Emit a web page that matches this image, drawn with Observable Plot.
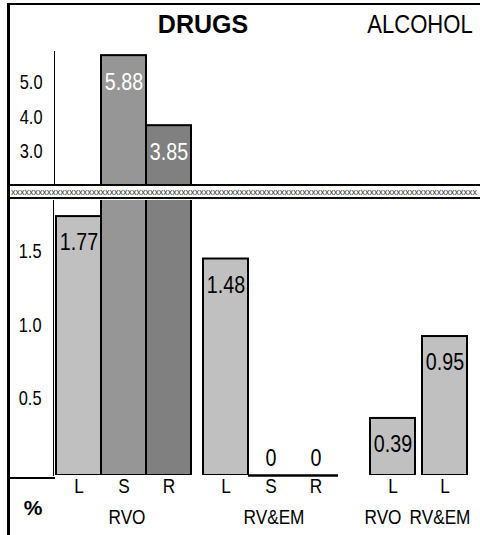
<!DOCTYPE html>
<html><head><meta charset="utf-8">
<script src="https://cdn.jsdelivr.net/npm/d3@7"></script>
<script src="https://cdn.jsdelivr.net/npm/@observablehq/plot@0.6"></script>
<style>
body{margin:0;background:#fff;}
#chart{position:relative;width:480px;height:535px;overflow:hidden;background:#fff;}
#chart svg{position:absolute;left:0;}
</style></head><body><div id="chart"></div>
<script>
// ---- data ----
const substances = ["DRUGS","DRUGS","DRUGS","DRUGS","DRUGS","DRUGS","ALCOHOL","ALCOHOL"];
const groups = ["RVO","RVO","RVO","RV&EM","RV&EM","RV&EM","RVO","RV&EM"];
const letters = ["L","S","R","L","S","R","L","L"];
const values = [1.77,5.88,3.85,1.48,0,0,0.39,0.95];
const topTicks = [3,4,5];
const bottomTicks = [0.5,1,1.5];
const titles = ["DRUGS","ALCOHOL"];
const unitLabel = "%";

// ---- layout / style ----
const SANS = '"Liberation Sans",Arial,sans-serif';
const NARROW_SCALE = 0.82;
const breakLow = 1.88, topLow = 2.145, topHigh = 6;
const shade = {L:"#c0c0c0", S:"#969696", R:"#808080"};
const groupDx = {"DRUGS|RVO":0, "DRUGS|RV&EM":12, "ALCOHOL|RVO":44, "ALCOHOL|RV&EM":51};
const groupLabelDx = {"DRUGS|RVO":3, "DRUGS|RV&EM":3, "ALCOHOL|RVO":-10, "ALCOHOL|RV&EM":-5};

const rows = values.map((v,i)=>({
  key: `${substances[i]}|${groups[i]}|${letters[i]}`,
  gkey: `${substances[i]}|${groups[i]}`,
  substance: substances[i], group: groups[i], letter: letters[i], value: v
}));
const gkeys = [...new Set(rows.map(d=>d.gkey))];
const xScale = {type:"band", domain: rows.map(d=>d.key), range:[56, 416], padding:0, axis:null};

function barMarks(clipped) {
  const m = [];
  for (const g of gkeys) {
    const data = rows.filter(d=>d.gkey===g);
    m.push(Plot.barY(data.filter(d=>d.value>0), {x:"key", y:"value", fill:d=>shade[d.letter], stroke:"black", strokeWidth:2, dx:groupDx[g], clip:clipped}));
  }
  return m;
}
function narrow(svg, s) {
  svg.querySelectorAll("text").forEach(t=>{
    const x = +t.getAttribute("x")||0, y = +t.getAttribute("y")||0;
    const tr = t.getAttribute("transform")||"";
    t.setAttribute("transform", `${tr} translate(${x},${y}) scale(${s},1) translate(${-x},${-y})`);
  });
}
const plotStyle = {fontFamily:SANS, fontSize:"20px", color:"black", background:"transparent", overflow:"visible"};

// ---- top panel ----
const topPlot = Plot.plot({
  width:480, height:184, marginTop:51, marginBottom:0, marginLeft:54, marginRight:0,
  style: plotStyle,
  x: xScale,
  y: {domain:[topLow, topHigh]},
  marks: [
    ...barMarks(true),
    ...gkeys.map(g=>Plot.text(rows.filter(d=>d.gkey===g && d.value>breakLow), {x:"key", y:"value", text:d=>d3.format(".2f")(d.value), dy:27, dx:groupDx[g], fill:"white", fontSize:24})),
    Plot.axisY(topTicks, {tickSize:0, tickPadding:12, tickFormat:".1f", dy:-3, fontSize:20, label:null}),
    Plot.frame({anchor:"left", stroke:"black"})
  ]
});
topPlot.style.top = "0px";

// ---- bottom panel ----
const bottomPlot = Plot.plot({
  width:480, height:336, marginTop:1, marginBottom:60, marginLeft:53, marginRight:0,
  style: plotStyle,
  x: xScale,
  y: {domain:[0, breakLow]},
  marks: [
    ...barMarks(true),
    ...gkeys.map(g=>Plot.tickY(rows.filter(d=>d.gkey===g && d.value===0), {x:"key", y:"value", stroke:"black", strokeWidth:2.5, dx:groupDx[g]})),
    ...gkeys.map(g=>Plot.text(rows.filter(d=>d.gkey===g && d.value>0 && d.value<=breakLow), {x:"key", y:"value", text:d=>d3.format(".2f")(d.value), dy:26, dx:groupDx[g], fill:"black", fontSize:24})),
    ...gkeys.map(g=>Plot.text(rows.filter(d=>d.gkey===g && d.value===0), {x:"key", y:"value", text:d=>String(d.value), dy:-17, dx:groupDx[g], fill:"black", fontSize:24})),
    ...gkeys.map(g=>Plot.text(rows.filter(d=>d.gkey===g), {x:"key", text:"letter", frameAnchor:"bottom", dy:17, dx:groupDx[g], fill:"black", fontSize:21})),
    ...gkeys.map(g=>{
      const data = rows.filter(d=>d.gkey===g);
      const mid = data[Math.floor((data.length-1)/2)];
      return Plot.text([mid], {x:"key", text:"group", frameAnchor:"bottom", dy:48, dx:groupDx[g]+groupLabelDx[g], fill:"black", fontSize:21});
    }),
    Plot.axisY(bottomTicks, {tickSize:0, tickPadding:12, tickFormat:".1f", dy:-4, fontSize:20, label:null}),
    Plot.frame({anchor:"left", stroke:"black"})
  ]
});
bottomPlot.style.top = "199px";
narrow(topPlot, NARROW_SCALE);
narrow(bottomPlot, NARROW_SCALE);

const chart = document.getElementById("chart");
chart.append(topPlot, bottomPlot);

// ---- decorations overlay ----
const ov = d3.select(chart).append("svg").attr("width",480).attr("height",535).style("top","0px");
ov.append("rect").attr("x",7).attr("y",3).attr("width",3).attr("height",532).attr("fill","black");
ov.append("rect").attr("x",7).attr("y",3).attr("width",473).attr("height",2).attr("fill","black");
ov.append("rect").attr("x",7).attr("y",184).attr("width",473).attr("height",2).attr("fill","black");
ov.append("rect").attr("x",7).attr("y",197).attr("width",473).attr("height",2).attr("fill","black");
ov.append("rect").attr("x",10).attr("y",186).attr("width",470).attr("height",11).attr("fill","white");
ov.append("text").attr("x",11).attr("y",194.5).attr("font-family",SANS).attr("font-size",9).attr("fill","#333")
  .attr("textLength",466).attr("lengthAdjust","spacingAndGlyphs")
  .text("x".repeat(104));
ov.append("rect").attr("x",7).attr("y",477).attr("width",48).attr("height",2).attr("fill","black");
ov.append("text").attr("x",203).attr("y",33).attr("text-anchor","middle").attr("font-family",SANS)
  .attr("font-weight","bold").attr("font-size",25).text(titles[0]);
ov.append("text").attr("text-anchor","middle").attr("font-family",SANS)
  .attr("font-size",26).attr("transform","translate(420,33) scale(0.85,1)").text(titles[1]);
ov.append("text").attr("x",33).attr("y",515).attr("text-anchor","middle").attr("font-family",SANS)
  .attr("font-weight","bold").attr("font-size",21).text(unitLabel);
</script></body></html>
